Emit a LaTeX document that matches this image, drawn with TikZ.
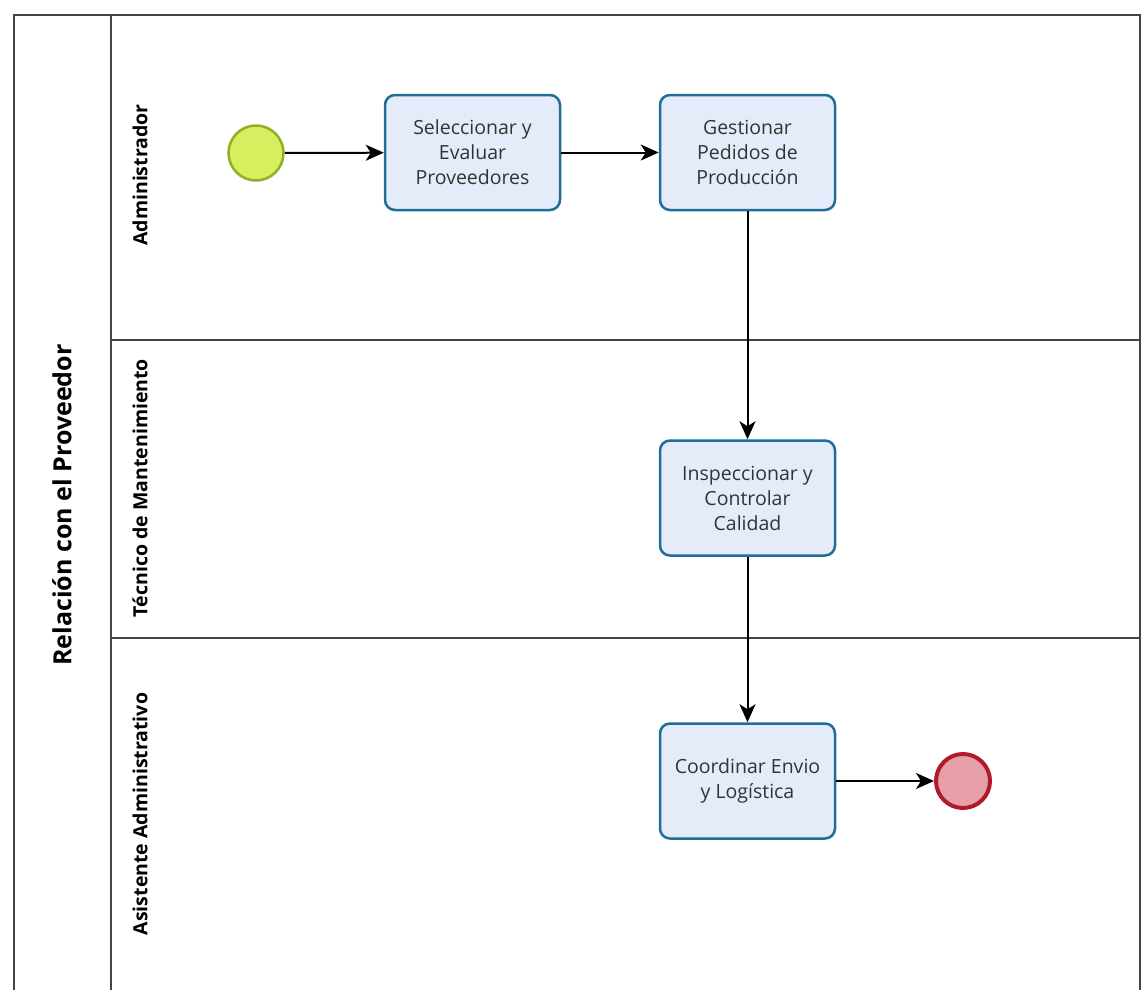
\documentclass[tikz,border=0pt]{standalone}
\usepackage{fontspec}
\setmainfont{Open Sans}
\usetikzlibrary{arrows.meta}
\definecolor{taskline}{HTML}{1E6E96}
\definecolor{taskfill}{HTML}{E4ECFA}
\definecolor{startfill}{HTML}{D7EE5E}
\definecolor{startline}{HTML}{8DB02A}
\definecolor{endfill}{HTML}{E8A0A8}
\definecolor{endline}{HTML}{B01A2C}
\definecolor{poolline}{HTML}{444444}
\definecolor{txt}{HTML}{333333}
\begin{document}
\begin{tikzpicture}[x=1pt,y=-1pt,
  task/.style={draw=taskline, fill=taskfill, line width=2.5pt, rounded corners=10pt,
    minimum width=175pt, minimum height=115pt, align=center, text=txt,
    font=\fontsize{19.5}{25}\selectfont, inner sep=0pt},
  startev/.style={circle, draw=startline, fill=startfill, line width=2.5pt, minimum size=55pt, inner sep=0pt},
  endev/.style={circle, draw=endline, fill=endfill, line width=4pt, minimum size=54pt, inner sep=0pt},
  flow/.style={-{Stealth[length=18pt,width=16pt,inset=5pt]}, line width=2pt, black},
  lanelabel/.style={rotate=90, font=\bfseries\fontsize{19.5}{21}\selectfont, text=black},
  poolborder/.style={draw=poolline, line width=1.5pt}]
\useasboundingbox (0,0) rectangle (1144,989);
% pool and lanes
\draw[poolborder] (14,995) -- (14,15) -- (1140,15) -- (1140,995);
\draw[poolborder] (111,15) -- (111,995);
\draw[poolborder] (111,340) -- (1140,340);
\draw[poolborder] (111,638) -- (1140,638);
\node[rotate=90, font=\bfseries\fontsize{25}{27}\selectfont, text=black] (pool) at (62,505) {Relación con el Proveedor};
\node[lanelabel] (l1) at (140,175) {Administrador};
\node[lanelabel] (l2) at (140,488) {Técnico de Mantenimiento};
\node[lanelabel] (l3) at (140,814) {Asistente Administrativo};
% elements
\node[startev] (start) at (256,153) {};
\node[task] (t1) at (472.5,152.5) {Seleccionar y\\Evaluar\\Proveedores};
\node[task] (t2) at (747.5,152.5) {Gestionar\\Pedidos de\\Producción};
\node[task] (t3) at (747.5,498) {Inspeccionar y\\Controlar\\Calidad};
\node[task] (t4) at (747.5,781) {Coordinar Envio\\y Logística};
\node[endev] (end) at (963,781) {};
% flows
\draw[flow] (start) -- (t1);
\draw[flow] (t1) -- (t2);
\draw[flow] (t2) -- (t3);
\draw[flow] (t3) -- (t4);
\draw[flow] (t4) -- (end);
\end{tikzpicture}
\end{document}
